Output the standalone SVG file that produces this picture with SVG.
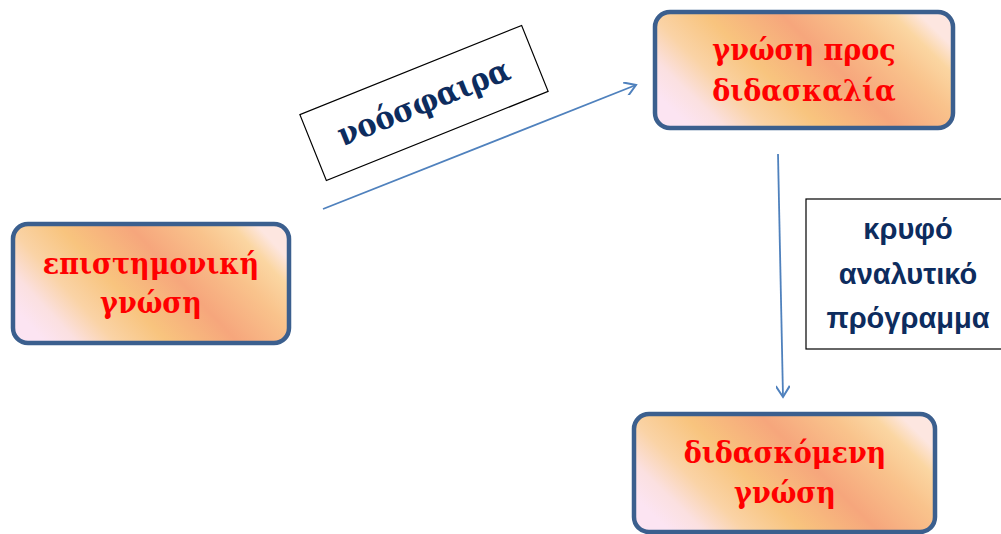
<svg xmlns="http://www.w3.org/2000/svg" width="1001" height="534" viewBox="0 0 1001 534">
<defs>
<linearGradient id="peach" x1="0" y1="0.7" x2="1" y2="0.3">
<stop offset="0" stop-color="#fce4f2"/>
<stop offset="0.1" stop-color="#fbe0e0"/>
<stop offset="0.22" stop-color="#fad3a6"/>
<stop offset="0.38" stop-color="#f8c47e"/>
<stop offset="0.6" stop-color="#f6a67c"/>
<stop offset="0.8" stop-color="#f9c38c"/>
<stop offset="0.92" stop-color="#fbd6a2"/>
<stop offset="1" stop-color="#fde6e0"/>
</linearGradient>
<marker id="open" markerWidth="14" markerHeight="14" viewBox="-12 -7 14 14" refX="0" refY="0" orient="auto" markerUnits="userSpaceOnUse">
<path d="M-11,-7 L0,0 L-11,7" fill="none" stroke="#4f81bd" stroke-width="2"/>
</marker>
<style>
.node{fill:url(#peach);stroke:#3b5f8e;stroke-width:4.5}
.nt{font-family:"DejaVu Serif Condensed","DejaVu Serif","Liberation Serif",serif;font-stretch:condensed;font-weight:bold;font-size:30px;fill:#ff0000;text-anchor:middle}
.lbl{fill:#ffffff;stroke:#000000;stroke-width:1.2}
.lt{font-family:"Liberation Sans","DejaVu Sans",sans-serif;font-weight:bold;font-size:29px;fill:#0d2c5e;text-anchor:middle}
.ls{font-family:"DejaVu Serif Condensed","DejaVu Serif","Liberation Serif",serif;font-stretch:condensed;font-weight:bold;font-size:32px;fill:#0d2c5e;text-anchor:middle}
.conn{fill:none;stroke:#4f81bd;stroke-width:1.8}
</style>
</defs>
<g id="connectors">
<line class="conn" x1="323" y1="209" x2="636" y2="85" marker-end="url(#open)"/>
<line class="conn" x1="778" y1="154" x2="783" y2="397" marker-end="url(#open)"/>
</g>
<g id="label-noosfaira">
<g transform="translate(424,103) rotate(-21.9)">
<rect class="lbl" x="-119.5" y="-35.5" width="239" height="71"/>
<text class="ls" x="0" y="10">νοόσφαιρα</text>
</g>
</g>
<g id="label-kryfo">
<rect class="lbl" x="806" y="199" width="200" height="150"/>
<text class="lt" x="908" y="239">κρυφό</text>
<text class="lt" x="908" y="284">αναλυτικό</text>
<text class="lt" x="908" y="328">πρόγραμμα</text>
</g>
<g id="node-epistimoniki">
<rect class="node" x="13" y="224" width="276" height="119" rx="15"/>
<text class="nt" x="151" y="274">επιστημονική</text>
<text class="nt" x="151" y="313">γνώση</text>
</g>
<g id="node-didaskalia">
<rect class="node" x="655" y="12" width="298" height="116" rx="15"/>
<text class="nt" x="804" y="60">γνώση προς</text>
<text class="nt" x="804" y="101">διδασκαλία</text>
</g>
<g id="node-didaskomeni">
<rect class="node" x="634" y="414" width="301" height="118" rx="15"/>
<text class="nt" x="785" y="463">διδασκόμενη</text>
<text class="nt" x="785" y="503">γνώση</text>
</g>
</svg>
